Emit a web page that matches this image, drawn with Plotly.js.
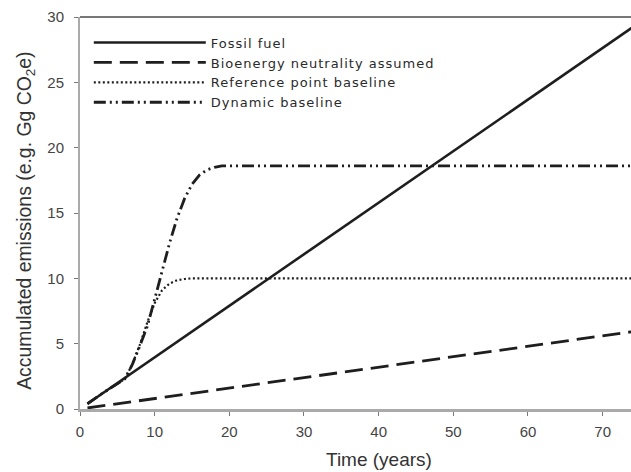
<!DOCTYPE html>
<html><head><meta charset="utf-8">
<script src="https://cdn.plot.ly/plotly-3.0.1.min.js"></script>
<style>html,body{margin:0;padding:0;background:#fff} .legendtext{letter-spacing:1px}</style>
</head><body><div id="chart" style="width:631px;height:472px"></div>
<script>
const fossilX = [1, 10, 20, 30, 40, 50, 60, 70, 75];
const fossilY = [0.4, 3.95, 7.9, 11.85, 15.8, 19.75, 23.7, 27.65, 29.6];
const bioX = [1, 10, 20, 30, 40, 50, 60, 70, 75];
const bioY = [0.08, 0.8, 1.6, 2.4, 3.2, 4.0, 4.8, 5.6, 6.0];
const refX = [1, 3, 6, 7, 8, 9, 10, 11, 12, 13, 14, 15, 20, 40, 60, 75];
const refY = [0.4, 1.2, 2.3, 3.4, 4.9, 6.6, 8.1, 9.1, 9.6, 9.85, 9.95, 10, 10, 10, 10, 10];
const dynX = [1, 3, 6, 7, 8, 9, 10, 11, 12, 13, 14, 15, 16, 17, 18, 19, 20, 40, 60, 75];
const dynY = [0.4, 1.2, 2.3, 3.4, 4.8, 6.3, 8.4, 10.6, 12.7, 14.6, 16.1, 17.2, 17.9, 18.3, 18.5, 18.6, 18.6, 18.6, 18.6, 18.6];
const names = ['Fossil fuel', 'Bioenergy neutrality assumed', 'Reference point baseline', 'Dynamic baseline'];
const xTicks = [0, 10, 20, 30, 40, 50, 60, 70];
const yTicks = [0, 5, 10, 15, 20, 25, 30];

const ink = '#1e1e1e';
const traces = [
  {x: fossilX, y: fossilY, name: names[0], mode: 'lines', line: {color: ink, width: 2.6}},
  {x: bioX, y: bioY, name: names[1], mode: 'lines', line: {color: ink, width: 2.8, dash: '18px,8px'}},
  {x: refX, y: refY, name: names[2], mode: 'lines', line: {color: ink, width: 2.2, dash: '2px,2.5px'}},
  {x: dynX, y: dynY, name: names[3], mode: 'lines', line: {color: ink, width: 2.8, dash: '12px,4px,2px,4px,2px,4px'}}
];
const fam = 'Liberation Sans, Arial, sans-serif';
const layout = {
  width: 631, height: 472,
  margin: {l: 80, r: 0, t: 17, b: 63},
  paper_bgcolor: '#fff', plot_bgcolor: '#fff',
  font: {family: fam, size: 15, color: '#333'},
  showlegend: true,
  legend: {x: 0.016, y: 0.973, xanchor: 'left', yanchor: 'top', bgcolor: 'rgba(0,0,0,0)',
           itemwidth: 112, tracegroupgap: 0, font: {family: 'DejaVu Sans, sans-serif', size: 13, color: '#2a2a2a'}},
  xaxis: {range: [0, 73.8], tickvals: xTicks, ticktext: xTicks.map(String),
          showgrid: false, zeroline: false, showline: true, linecolor: '#aaa', linewidth: 2.5,
          ticks: 'outside', ticklen: 4, tickcolor: '#777', ticklabelstandoff: 3,
          tickfont: {family: fam, size: 15, color: '#444'}},
  yaxis: {range: [0, 30], tickvals: yTicks, ticktext: yTicks.map(String),
          showgrid: false, zeroline: false, showline: true, linecolor: '#aaa', linewidth: 2,
          ticks: 'outside', ticklen: 4, tickcolor: '#777', ticklabelstandoff: 7,
          tickfont: {family: fam, size: 15, color: '#444'}},
  shapes: [{type: 'line', xref: 'paper', yref: 'paper', x0: 0, x1: 1, y0: 1, y1: 1, line: {color: '#777', width: 2}}],
  annotations: [
    {text: 'Time (years)', xref: 'x', yref: 'paper', x: 40, y: -0.13, yanchor: 'middle',
     showarrow: false, font: {family: fam, size: 19, color: '#333'}},
    {text: 'Accumulated emissions (e.g. Gg CO<sub>2</sub>e)', xref: 'paper', yref: 'paper', x: -0.098, y: 0.48,
     xanchor: 'center', yanchor: 'middle', textangle: -90, showarrow: false, font: {family: fam, size: 19.4, color: '#333'}}
  ]
};
Plotly.newPlot('chart', traces, layout, {displayModeBar: false, staticPlot: true});
</script></body></html>
